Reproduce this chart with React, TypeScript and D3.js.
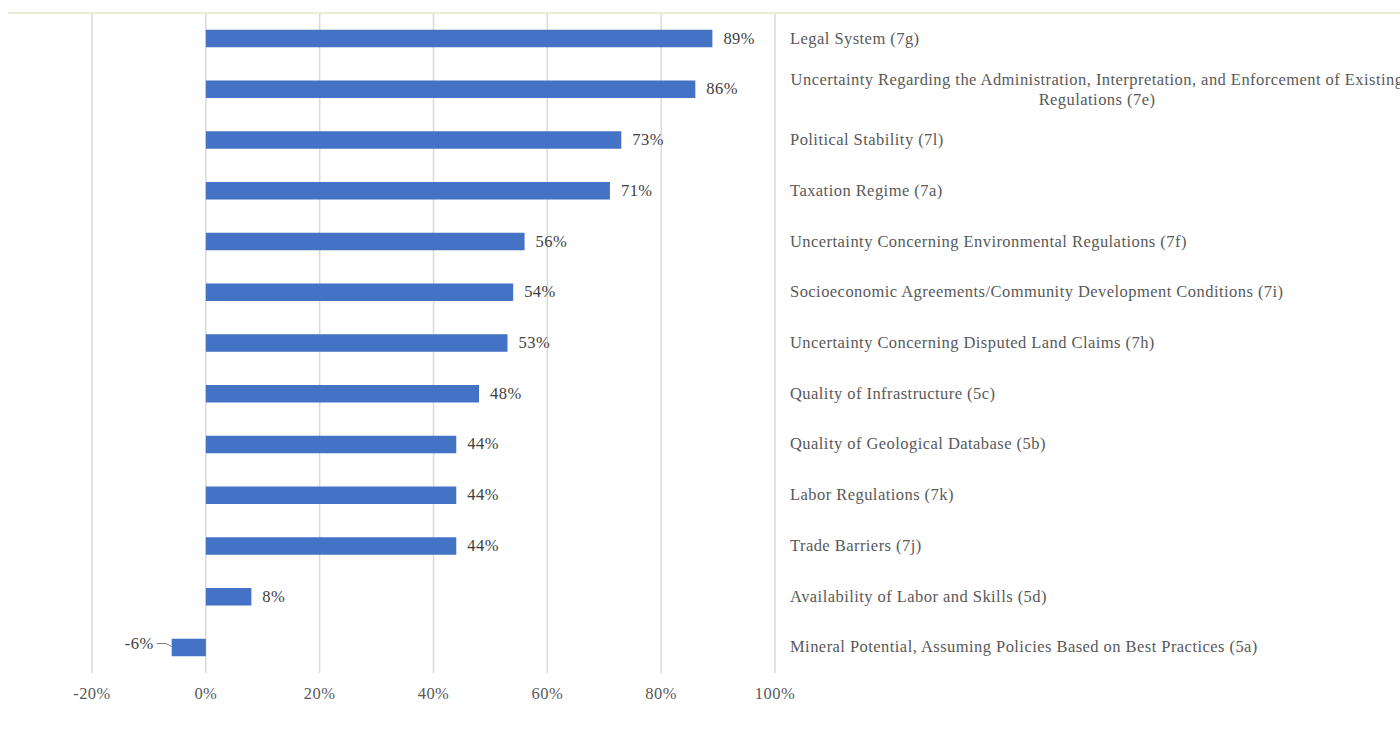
import * as React from "react";
import * as d3 from "d3";

const categories = [
  "Legal System (7g)",
  "Uncertainty Regarding the Administration, Interpretation, and Enforcement of Existing|Regulations (7e)",
  "Political Stability (7l)",
  "Taxation Regime (7a)",
  "Uncertainty Concerning Environmental Regulations (7f)",
  "Socioeconomic Agreements/Community Development Conditions (7i)",
  "Uncertainty Concerning Disputed Land Claims (7h)",
  "Quality of Infrastructure (5c)",
  "Quality of Geological Database (5b)",
  "Labor Regulations (7k)",
  "Trade Barriers (7j)",
  "Availability of Labor and Skills (5d)",
  "Mineral  Potential, Assuming Policies Based on Best Practices (5a)",
];
const values = [0.89, 0.86, 0.73, 0.71, 0.56, 0.54, 0.53, 0.48, 0.44, 0.44, 0.44, 0.08, -0.06];
const ticks = [-0.2, 0, 0.2, 0.4, 0.6, 0.8, 1.0];

const W = 1400;
const H = 733;
const font = "'Liberation Serif', 'Times New Roman', serif";

// plain hyphen for negatives, like the original
const fmt = (v: number) => d3.format(".0%")(v).replace("\u2212", "-");

export default function App() {
  const x = d3.scaleLinear().domain([-0.2, 1.0]).range([92, 775]);
  const y = d3
    .scaleBand<string>()
    .domain(categories)
    .range([13, 673])
    .paddingInner(0.655)
    .paddingOuter(0.33);
  const labelX = 790;
  const wrapCenter = 1097;
  const fs = 16.5;
  const ls = 0.45;

  return (
    <svg
      width={W}
      height={H}
      style={{ position: "absolute", left: 0, top: 0, background: "#fff" }}
      fontFamily={font}
      letterSpacing={ls}
    >
      <line x1={8} x2={W} y1={13} y2={13} stroke="#e6e9c4" strokeWidth={1.5} />
      {ticks.map((t) => (
        <g key={t}>
          <line x1={x(t)} x2={x(t)} y1={14} y2={673} stroke="#d9d9d9" strokeWidth={1.5} />
          <text x={x(t)} y={699} textAnchor="middle" fontSize={fs} fill="#595959">
            {fmt(t)}
          </text>
        </g>
      ))}
      {categories.map((c, i) => {
        const v = values[i];
        const by = y(c)!;
        const bh = y.bandwidth();
        const cy = by + bh / 2;
        const x0 = x(Math.min(0, v));
        const x1 = x(Math.max(0, v));
        const lines = c.split("|");
        return (
          <g key={c}>
            <rect x={x0} y={by} width={x1 - x0} height={bh} fill="#4472c4" />
            {v >= 0 ? (
              <text x={x1 + 11} y={cy + 5} fontSize={fs} fill="#404040">
                {fmt(v)}
              </text>
            ) : (
              <g>
                <text x={x0 - 18} y={cy + 2} textAnchor="end" fontSize={fs} fill="#404040">
                  {fmt(v)}
                </text>
                <path
                  d={`M${x0 - 15},${cy - 4} L${x0 - 6},${cy - 4} L${x0},${cy - 1}`}
                  fill="none"
                  stroke="#7f7f7f"
                  strokeWidth={1}
                />
              </g>
            )}
            {lines.length === 1 ? (
              <text x={labelX} y={cy + 5} fontSize={fs} fill="#595959">
                {lines[0]}
              </text>
            ) : (
              lines.map((l, k) => (
                <text
                  key={k}
                  x={wrapCenter}
                  y={cy - 4 + k * 20}
                  textAnchor="middle"
                  fontSize={fs}
                  fill="#595959"
                >
                  {l}
                </text>
              ))
            )}
          </g>
        );
      })}
    </svg>
  );
}
